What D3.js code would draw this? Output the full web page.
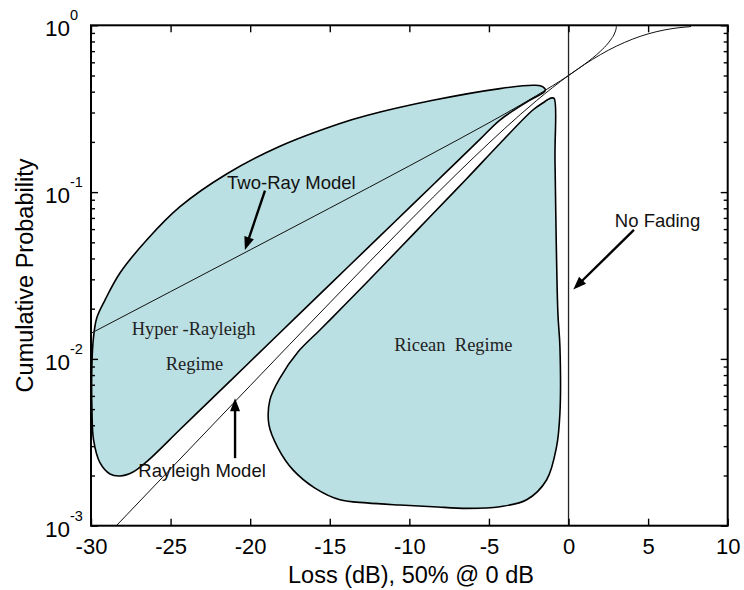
<!DOCTYPE html>
<html>
<head>
<meta charset="utf-8">
<script src="https://cdn.jsdelivr.net/npm/d3@7"></script>
<style>
  body { margin: 0; background: #fff; }
  svg { display: block; }
</style>
</head>
<body>
<svg id="chart" width="744" height="590"></svg>
<script>
// Axis ticks
const lossTicks = [-30, -25, -20, -15, -10, -5, 0, 5, 10];
const probDecades = [1e-3, 1e-2, 1e-1, 1];
const decadeExponents = ["-3", "-2", "-1", "0"];

// Two-ray model CDF (loss in dB relative to median, cumulative probability)
const twoRayLoss = [-30, -25, -20, -15, -10, -7, -5, -3, -2, -1, 0, 1, 1.5, 2, 2.5, 2.7, 2.9, 3.0, 3.01];
const twoRayProb = [0.01424, 0.02532, 0.04505, 0.0802, 0.1436, 0.2047, 0.2603, 0.3338, 0.3796, 0.4342, 0.5,
                    0.5835, 0.6348, 0.6983, 0.7838, 0.8312, 0.8989, 0.9691, 1.0];

// Rayleigh model CDF
const rayleighLoss = [-28.5, -25, -20, -15, -10, -7, -5, -3, -2, -1, 0, 1, 2, 3, 4, 5, 6, 7, 7.7];
const rayleighProb = [0.000979, 0.00219, 0.00691, 0.02168, 0.06697, 0.1292, 0.1968, 0.2935, 0.3543, 0.4234, 0.5,
                      0.5821, 0.6667, 0.7492, 0.8246, 0.8883, 0.9367, 0.9690, 0.9831];

// No-fading step at 0 dB
const noFadingLoss = [0, 0];
const noFadingProb = [1e-3, 1];

// Hyper-Rayleigh regime outline [loss dB, probability]
const hyperRayleighOutline = [
  [-1.45, 0.4093], [-1.73, 0.4325], [-2.24, 0.4367], [-4.31, 0.4174], [-8.52, 0.3551],
  [-12.68, 0.2879], [-14.36, 0.2577], [-18.13, 0.1882], [-21.48, 0.1284], [-24.41, 0.08174],
  [-26.50, 0.05162], [-28.18, 0.03273], [-29.12, 0.02254], [-29.64, 0.01758], [-29.86, 0.01298],
  [-29.95, 0.00858], [-29.94, 0.00494], [-29.84, 0.00327], [-29.43, 0.002377], [-28.81, 0.002042],
  [-28.18, 0.001986], [-27.36, 0.0021], [-26.50, 0.00242], [-24.41, 0.003773], [-22.34, 0.005861],
  [-20.22, 0.009191], [-18.13, 0.01434], [-16.06, 0.02227], [-13.94, 0.03493], [-11.85, 0.05448],
  [-9.77, 0.08465], [-7.66, 0.1327], [-5.57, 0.2069], [-4.31, 0.2704], [-2.42, 0.356], [-1.61, 0.393]
];

// Ricean regime outline [loss dB, probability]
const riceanOutline = [
  [-1.32, 0.358], [-1.05, 0.367], [-0.90, 0.364], [-0.85, 0.156], [-0.67, 0.0190],
  [-0.54, 0.0118], [-0.54, 0.00474], [-0.75, 0.00298], [-1.38, 0.00188], [-2.63, 0.00143],
  [-4.31, 0.00130], [-6.40, 0.00127], [-8.52, 0.00130], [-10.59, 0.00133], [-12.68, 0.00137],
  [-14.36, 0.00143], [-15.93, 0.00168], [-17.31, 0.00216], [-18.25, 0.00292], [-18.82, 0.00402],
  [-18.76, 0.00568], [-18.13, 0.00768], [-17.00, 0.0110], [-15.62, 0.0149], [-14.05, 0.0211],
  [-12.68, 0.02871], [-10.59, 0.04622], [-8.52, 0.07422], [-6.40, 0.1202], [-4.31, 0.1956],
  [-2.24, 0.3106], [-1.48, 0.3493]
];

// Annotation labels, placed in data units
const sansLabels = [
  { text: "Two-Ray Model", at: [-21.45, 0.105] },
  { text: "No Fading", at: [2.91, 0.0620] },
  { text: "Rayleigh Model", at: [-27.03, 0.00197] }
];
const serifLabels = [
  { text: "Hyper -Rayleigh", at: [-23.55, 0.0139] },
  { text: "Regime", at: [-23.5, 0.00858] },
  { text: "Ricean  Regime", at: [-7.24, 0.0112] }
];
const arrows = [
  { from: [-19.07, 0.102], to: [-20.33, 0.045] },
  { from: [4.11, 0.0593], to: [0.30, 0.0261] },
  { from: [-20.95, 0.00254], to: [-20.95, 0.0058] }
];

const W = 744, H = 590;
const margin = { top: 25.3, right: 16.3, bottom: 64.3, left: 91 };
const iw = W - margin.left - margin.right;
const ih = H - margin.top - margin.bottom;

const x = d3.scaleLinear().domain([-30, 10]).range([0, iw]);
const y = d3.scaleLog().domain([1e-3, 1]).range([ih, 0]);

const svg = d3.select("#chart");
const g = svg.append("g").attr("transform", `translate(${margin.left},${margin.top})`);

g.append("clipPath").attr("id", "plot-clip")
  .append("rect").attr("width", iw).attr("height", ih);

const plot = g.append("g").attr("clip-path", "url(#plot-clip)");

const regionLine = d3.line()
  .x(d => x(d[0])).y(d => y(d[1]))
  .curve(d3.curveCatmullRomClosed.alpha(0.5));

const fillColor = "#bbe0e3";

[hyperRayleighOutline, riceanOutline].forEach(outline => {
  plot.append("path")
    .attr("d", regionLine(outline))
    .attr("fill", fillColor)
    .attr("stroke", "#000")
    .attr("stroke-width", 1.6)
    .attr("stroke-linejoin", "round");
});

const curve = d3.line()
  .x(d => x(d[0])).y(d => y(d[1]))
  .curve(d3.curveMonotoneX);

const zip = (a, b) => a.map((v, i) => [v, b[i]]);

plot.append("path")
  .attr("d", curve(zip(twoRayLoss, twoRayProb)))
  .attr("fill", "none").attr("stroke", "#111").attr("stroke-width", 1);

plot.append("path")
  .attr("d", curve(zip(rayleighLoss, rayleighProb)))
  .attr("fill", "none").attr("stroke", "#111").attr("stroke-width", 1);

plot.append("path")
  .attr("d", d3.line().x(d => x(d[0])).y(d => y(d[1]))(zip(noFadingLoss, noFadingProb)))
  .attr("fill", "none").attr("stroke", "#222").attr("stroke-width", 1.3);

// Axes: inward ticks on all four sides
const fontSans = "'Liberation Sans', Arial, sans-serif";
const fontSerif = "'Liberation Serif', 'Times New Roman', serif";

const xAxis = g.append("g").attr("transform", `translate(0,${ih})`)
  .call(d3.axisBottom(x).tickValues(lossTicks).tickSizeInner(-7).tickSizeOuter(0)
    .tickPadding(12.5).tickFormat(d => String(d)));
xAxis.selectAll("text").attr("font-family", fontSans).attr("font-size", 22).attr("fill", "#000");

g.append("g")
  .call(d3.axisTop(x).tickValues(lossTicks).tickSizeInner(-7).tickSizeOuter(0).tickFormat(""));

const minorTicks = y.ticks().filter(v => !probDecades.some(d => Math.abs(v / d - 1) < 1e-9));

g.append("g").call(d3.axisLeft(y).tickValues(probDecades).tickSizeInner(-7).tickSizeOuter(0).tickFormat(""));
g.append("g").call(d3.axisLeft(y).tickValues(minorTicks).tickSizeInner(-4).tickSizeOuter(0).tickFormat(""));
g.append("g").attr("transform", `translate(${iw},0)`)
  .call(d3.axisRight(y).tickValues(probDecades).tickSizeInner(-7).tickSizeOuter(0).tickFormat(""));
g.append("g").attr("transform", `translate(${iw},0)`)
  .call(d3.axisRight(y).tickValues(minorTicks).tickSizeInner(-4).tickSizeOuter(0).tickFormat(""));

g.selectAll(".domain").remove();
g.selectAll(".tick line").attr("stroke", "#000").attr("stroke-width", 1.4);

g.append("rect")
  .attr("width", iw).attr("height", ih)
  .attr("fill", "none").attr("stroke", "#000").attr("stroke-width", 2);

// Decade labels as 10^n
const yLabels = g.append("g");
probDecades.forEach((v, i) => {
  const t = yLabels.append("text")
    .attr("x", -46).attr("y", y(v) + 11)
    .attr("font-family", fontSans).attr("fill", "#000");
  t.append("tspan").attr("font-size", 22.5).text("10");
  t.append("tspan").attr("font-size", 14.5).attr("dy", -16).text(decadeExponents[i]);
});

// Axis titles
svg.append("text")
  .attr("x", 411).attr("y", 583)
  .attr("text-anchor", "middle")
  .attr("font-family", fontSans).attr("font-size", 23.5).attr("fill", "#000")
  .text("Loss (dB), 50% @ 0 dB");

svg.append("text")
  .attr("transform", `translate(32.5,${margin.top + ih / 2}) rotate(-90)`)
  .attr("text-anchor", "middle")
  .attr("font-family", fontSans).attr("font-size", 23.5).attr("fill", "#000")
  .text("Cumulative Probability");

// Annotations
sansLabels.forEach(l => {
  g.append("text")
    .attr("x", x(l.at[0])).attr("y", y(l.at[1]))
    .attr("font-family", fontSans).attr("font-size", 18.5).attr("fill", "#111")
    .text(l.text);
});

serifLabels.forEach(l => {
  g.append("text")
    .attr("x", x(l.at[0])).attr("y", y(l.at[1]))
    .attr("text-anchor", "middle")
    .style("white-space", "pre")
    .attr("font-family", fontSerif).attr("font-size", 18.5).attr("fill", "#222")
    .text(l.text);
});

arrows.forEach(a => {
  const x0 = x(a.from[0]), y0 = y(a.from[1]);
  const x1 = x(a.to[0]), y1 = y(a.to[1]);
  const len = Math.hypot(x1 - x0, y1 - y0);
  const ux = (x1 - x0) / len, uy = (y1 - y0) / len;
  const headLen = 13, headHalf = 5;
  const bx = x1 - ux * headLen, by = y1 - uy * headLen;
  g.append("line")
    .attr("x1", x0).attr("y1", y0).attr("x2", bx + ux * 1).attr("y2", by + uy * 1)
    .attr("stroke", "#000").attr("stroke-width", 2.4);
  g.append("path")
    .attr("d", `M${x1},${y1}L${bx - uy * headHalf},${by + ux * headHalf}L${bx + uy * headHalf},${by - ux * headHalf}Z`)
    .attr("fill", "#000");
});
</script>
</body>
</html>
